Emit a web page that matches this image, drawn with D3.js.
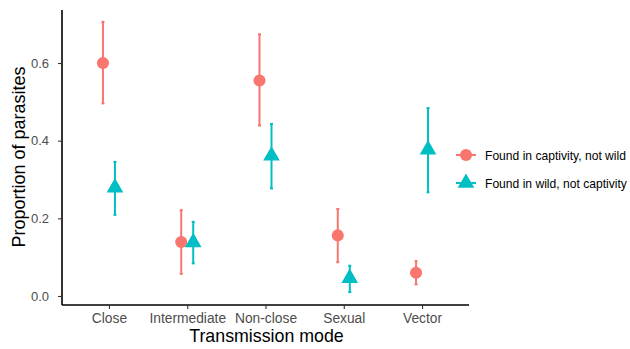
<!DOCTYPE html>
<html>
<head>
<meta charset="utf-8">
<script src="https://cdn.jsdelivr.net/npm/d3@7"></script>
<style>
  body { margin: 0; background: #fff; }
  text { font-family: "Liberation Sans", Arial, sans-serif; }
</style>
</head>
<body>
<div id="chart"></div>
<script>
// categories and series
const modes = ["Close", "Intermediate", "Non-close", "Sexual", "Vector"];
const groups = ["Found in captivity, not wild", "Found in wild, not captivity"];
const captivityMean = [0.600, 0.139, 0.555, 0.156, 0.060];
const captivityLow  = [0.496, 0.057, 0.439, 0.087, 0.030];
const captivityHigh = [0.706, 0.221, 0.674, 0.224, 0.090];
const wildMean = [0.279, 0.138, 0.361, 0.046, 0.377];
const wildLow  = [0.209, 0.084, 0.277, 0.010, 0.267];
const wildHigh = [0.345, 0.191, 0.443, 0.078, 0.484];
const yTicks = [0, 0.2, 0.4, 0.6];

const width = 630, height = 349;
const panel = { left: 62, right: 469, top: 10, bottom: 305 };

const rows = [];
modes.forEach((m, i) => {
  rows.push({ mode: m, group: groups[0], mean: captivityMean[i], lo: captivityLow[i], hi: captivityHigh[i] });
  rows.push({ mode: m, group: groups[1], mean: wildMean[i], lo: wildLow[i], hi: wildHigh[i] });
});

const color = d3.scaleOrdinal().domain(groups).range(["#F8766D", "#00BFC4"]);

const x = d3.scalePoint().domain(modes)
  .range([panel.left, panel.right]).padding(0.6);
const dodge = d3.scalePoint().domain(groups).range([-6, 6]);
const y = d3.scaleLinear().domain([0, 0.6]).range([296, 63]);

const svg = d3.select("#chart").append("svg")
  .attr("width", width).attr("height", height);

// error bars
const bars = svg.append("g").selectAll("g").data(rows).join("g")
  .attr("transform", d => `translate(${x(d.mode) + dodge(d.group)},0)`)
  .style("stroke", d => color(d.group))
  .style("stroke-width", 2);
bars.append("line").attr("y1", d => y(d.lo)).attr("y2", d => y(d.hi));
bars.append("line").attr("x1", -1.5).attr("x2", 1.5).attr("y1", d => y(d.lo)).attr("y2", d => y(d.lo));
bars.append("line").attr("x1", -1.5).attr("x2", 1.5).attr("y1", d => y(d.hi)).attr("y2", d => y(d.hi));

// points
const sym = d3.scaleOrdinal().domain(groups).range([d3.symbolCircle, d3.symbolTriangle]);
const size = d3.scaleOrdinal().domain(groups).range([115, 120]);
svg.append("g").selectAll("path").data(rows).join("path")
  .attr("transform", d => `translate(${x(d.mode) + dodge(d.group)},${y(d.mean)})`)
  .attr("d", d => d3.symbol().type(sym(d.group)).size(size(d.group))())
  .style("fill", d => color(d.group));

// axes
const xAxis = svg.append("g")
  .attr("transform", `translate(0,${panel.bottom})`)
  .call(d3.axisBottom(x).tickSize(4).tickPadding(4));
const yAxis = svg.append("g")
  .attr("transform", `translate(${panel.left},0)`)
  .call(d3.axisLeft(y).tickValues(yTicks).tickFormat(d3.format(".1f")).tickSize(4).tickPadding(9));

xAxis.select(".domain").attr("d", `M${panel.left},0H${panel.right}`);
yAxis.select(".domain").attr("d", `M0,${panel.top}V${panel.bottom}`);
[xAxis, yAxis].forEach(a => {
  a.select(".domain").style("stroke", "#000").style("stroke-width", 1.6);
  a.selectAll(".tick line").style("stroke", "#333").style("stroke-width", 1.1);
  a.selectAll(".tick text").style("fill", "#4d4d4d")
    .style("font-family", "'Liberation Sans', Arial, sans-serif");
});
xAxis.selectAll(".tick text").style("font-size", "13.8px");
yAxis.selectAll(".tick text").style("font-size", "13px");

// axis titles
svg.append("text")
  .attr("x", (panel.left + panel.right) / 2 + 1).attr("y", 342)
  .attr("text-anchor", "middle").style("font-size", "17.8px")
  .text("Transmission mode");
svg.append("text")
  .attr("transform", "rotate(-90)")
  .attr("x", -157).attr("y", 25)
  .attr("text-anchor", "middle").style("font-size", "18px")
  .text("Proportion of parasites");

// legend
const legend = svg.append("g").selectAll("g").data(groups).join("g")
  .attr("transform", (d, i) => `translate(466,${155 + i * 28})`);
legend.append("line").attr("x1", -10).attr("x2", 10)
  .style("stroke", d => color(d)).style("stroke-width", 2);
legend.append("path")
  .attr("d", d => d3.symbol().type(sym(d)).size(size(d))())
  .style("fill", d => color(d));
legend.append("text").attr("x", 19).attr("y", 4.5)
  .style("font-size", "12.1px").style("fill", "#000")
  .text(d => d);
</script>
</body>
</html>
